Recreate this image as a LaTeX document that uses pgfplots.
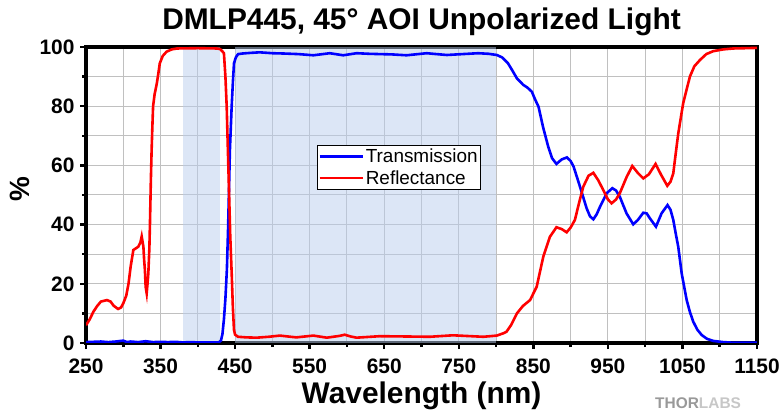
\documentclass[border=0pt]{standalone}
\usepackage{fontspec}
\setmainfont{Liberation Sans}
\usepackage{pgfplots}
\usepackage{pgfplotstable}
\pgfplotsset{compat=1.18}
\definecolor{shade}{RGB}{185,205,237}
\definecolor{gridgray}{RGB}{192,192,192}
\definecolor{tblue}{RGB}{0,0,255}
\definecolor{rred}{RGB}{255,0,0}

\pgfplotstableread{
x y
250 0.3
260 0.4
270 0.5
280 0.3
290 0.5
300 0.8
305 0.3
310 0.5
320 0.3
330 0.6
340 0.3
350 0.4
360 0.3
370 0.4
380 0.2
390 0.3
400 0.2
410 0.2
420 0.2
428 0.2
431 0.8
433 3
435 8
437 15
439 25
440.5 38
441.8 51.7
443 65
445.4 80
447 88
448.5 94.5
451 96.5
454 97.6
460 97.8
470 98.0
483 98.2
500 97.9
515 97.8
535 97.6
555 97.2
577 97.9
595 97.2
613 97.9
630 97.7
644 97.6
660 97.5
680 97.2
707 97.9
720 97.6
734 97.3
755 97.6
776 97.9
790 97.7
801 97.3
808 96.5
816 94.5
822 92
828 89.4
836.5 87.2
842 86.3
848 84.9
852 82.5
857 79.8
863 73
870 66.3
875 62.5
881 60.5
888 62
895 62.7
900 61.5
904 59.6
912.6 52.8
921.5 45.5
926 42.8
930.5 41.8
935 43.5
939.4 46
948.4 50.6
956 52.3
961 51.5
966 49.4
975 43.8
984 40.1
990 41.5
997.5 44
1002 43.8
1006.4 42.1
1014.5 39.3
1022 43.8
1030 46.6
1034 45
1037.7 41.6
1041 37
1044.4 32.5
1049 23.5
1055.7 14.5
1060 10.5
1064.5 7.2
1070 4.5
1075.8 2.7
1083 1.4
1091.4 0.7
1105 0.3
1118 0.1
1150 0.1
}\trans

\pgfplotstableread{
x y
250 6
255 8
260 10.6
265 12.5
270 14
278 14.5
283 14
287 12.6
293 11.5
297 12
300 13.4
304 16
307 20
310 26
313.5 31.4
317 32
320 32.5
323 34
324.7 36
326 34
327 32.5
328 28
329 24.7
330 19
331.4 16.8
332.5 20
333.6 23.5
335 32
335.8 40.4
337 55
338 65
339 73
340 80
342 84
345 87.7
347 91
349 94.5
353 97
358 98.4
365 99.2
372 99.5
400 99.6
425 99.5
430 99.3
433 98.5
435 97.9
437 90
438.7 80
440 68
441.8 51.7
443.5 36
445.4 23.6
447 12
448.5 4.4
450 2.8
454 2.1
465 1.9
479 1.8
495 2.1
510 2.5
532 1.9
555 2.5
573 1.8
590 2.4
597 2.8
605 2.2
613 1.8
644 2.3
680 2.2
711 2.1
742 2.6
783 2.1
801 2.5
810 3.3
814 3.8
820 6
828 10
836 12.5
845.6 14.5
854.5 19
863.4 29.2
872.3 35.9
881 39.1
888 38.5
894.7 37.4
900 39
905.8 41.6
911 47
917 52.8
924 56.5
930.5 57.5
937 55
943.8 51.7
950 48.5
955 47.2
961 48.5
966 50.6
975 56
982.7 59.8
990 57.5
997.5 55.6
1005 57
1014 60.5
1021 57
1029.7 53.1
1034 54.5
1037.7 57.3
1041 64
1044.4 70.8
1051 81
1060 90
1066 93.5
1073.5 95.6
1082 97.6
1091.4 98.6
1105 99.2
1118 99.5
1135 99.6
1150 99.7
}\refl

\begin{document}
\begin{tikzpicture}
\path[use as bounding box] (0,0) rectangle (780bp,416bp);
\begin{axis}[
  at={(86bp,73bp)}, anchor=south west,
  scale only axis, width=671bp, height=296bp,
  xmin=250, xmax=1150, ymin=0, ymax=100,
  xtick={250,350,...,1150}, minor xtick={300,400,...,1100},
  ytick={0,20,...,100}, minor ytick={10,30,...,90},
  grid=both,
  major grid style={gridgray, line width=1bp},
  minor grid style={gridgray, line width=1bp},
  tick align=outside, xtick pos=bottom, ytick pos=left,
  major tick length=6bp, minor tick length=4bp,
  tick style={black, line width=2.5bp},
  axis line style={black, line width=3.5bp},
  /pgf/number format/assume math mode=true,
  /pgf/number format/1000 sep={},
  tick label style={font=\bfseries\fontsize{21}{21}\selectfont},
  xticklabel style={yshift=-6bp},
  yticklabel style={xshift=-2bp},
  title={DMLP445, 45° AOI Unpolarized Light},
  title style={at={(axis description cs:0.5,1)}, anchor=base, yshift=12bp,
    font=\bfseries\fontsize{30}{30}\selectfont},
  xlabel={Wavelength (nm)},
  xlabel style={at={(axis description cs:0.5,0)}, anchor=base, yshift=-60bp,
    font=\bfseries\fontsize{30}{30}\selectfont},
  ylabel={\%},
  ylabel style={at={(axis description cs:0,0.52)}, anchor=center, yshift=66bp,
    font=\bfseries\fontsize{28}{28}\selectfont},
  legend style={at={(0.344,0.669)}, anchor=north west, draw=black,
    line width=0.8bp, inner xsep=1bp, inner ysep=0.5bp, row sep=0.5bp,
    font=\fontsize{19}{20}\selectfont, cells={anchor=west},
    nodes={inner ysep=3bp}},
  legend image code/.code={\draw[#1] (0bp,0bp) -- (43bp,0bp);},
]
\addplot[fill=shade, fill opacity=0.5, draw=none, forget plot]
  coordinates {(380,0) (380,100) (430,100) (430,0)};
\addplot[fill=shade, fill opacity=0.5, draw=none, forget plot]
  coordinates {(450,0) (450,100) (800,100) (800,0)};
\addplot[tblue, line width=2.6bp] table[x=x,y=y] {\trans};
\addlegendentry{Transmission}
\addplot[rred, line width=2.6bp] table[x=x,y=y] {\refl};
\addlegendentry{Reflectance}
\end{axis}
\node[anchor=base west, inner sep=0, font=\bfseries\fontsize{15.5}{15.5}\selectfont]
  at (655bp,8bp) {\textcolor{black!40}{THOR}\textcolor{black!22}{LABS}};
\end{tikzpicture}
\end{document}
